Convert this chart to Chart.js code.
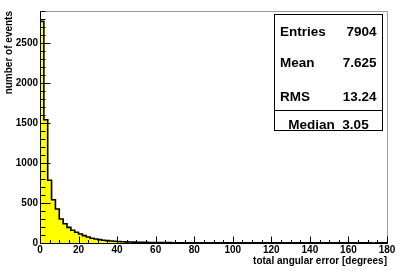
<!DOCTYPE html>
<html>
<head>
<meta charset="utf-8">
<script src="https://cdn.jsdelivr.net/npm/chart.js@4.4.1/dist/chart.umd.min.js"></script>
<style>
  html, body { margin: 0; padding: 0; background: #fff; }
  #wrap { width: 403px; height: 271px; position: relative; }
</style>
</head>
<body>
<div id="wrap"><canvas id="histChart"></canvas></div>
<script>
const binWidth = 2;
const counts = [
  2770, 1540, 785, 540, 425, 300, 240, 195, 160, 135,
  112, 92, 75, 60, 50, 42, 35, 30, 25, 22,
  18, 16, 14, 12, 11, 10, 9, 8, 7, 7,
  6, 6, 5, 5, 4, 4, 4, 3, 3, 3,
  3, 3, 2, 3, 2, 2, 3, 2, 2, 2,
  2, 2, 1, 2, 2, 1, 2, 1, 2, 1,
  1, 2, 1, 1, 2, 1, 1, 1, 2, 1,
  1, 1, 1, 2, 1, 1, 1, 1, 1, 1,
  1, 1, 0, 1, 1, 1, 0, 1, 1, 1,
];
const xTicks = [0, 20, 40, 60, 80, 100, 120, 140, 160, 180];
const yTicks = [0, 500, 1000, 1500, 2000, 2500];
const statsLabels = ["Entries", "Mean", "RMS"];
const statsValues = ["7904", "7.625", "13.24"];
const medianText = "Median  3.05";

const labelFont = { family: "Liberation Sans", size: 10, weight: "bold" };

// step outline: one point per bin low edge, plus the closing edge
const points = counts.map((value, i) => ({ x: i * binWidth, y: value }));
points.push({ x: counts.length * binWidth, y: counts[counts.length - 1] });

const drawTick = (ctx, x1, y1, x2, y2) => {
  ctx.beginPath();
  ctx.moveTo(x1, y1);
  ctx.lineTo(x2, y2);
  ctx.stroke();
};

const rootFrame = {
  id: "rootFrame",
  afterDraw(chart) {
    const { ctx, chartArea: area, scales } = chart;
    const left = Math.round(area.left) + 0.5;
    const right = Math.round(area.right) + 0.5;
    const top = Math.round(area.top) + 0.5;
    const bottom = Math.round(area.bottom) + 0.5;

    ctx.save();
    ctx.lineWidth = 1;
    ctx.strokeStyle = "#9a9a9a";
    ctx.beginPath();
    ctx.moveTo(left, top);
    ctx.lineTo(right, top);
    ctx.lineTo(right, bottom);
    ctx.stroke();

    ctx.strokeStyle = "#000";
    drawTick(ctx, left, top, left, bottom);
    drawTick(ctx, left, bottom, right, bottom);

    for (let v = 0; v <= scales.y.max; v += 100) {
      const y = Math.round(scales.y.getPixelForValue(v)) + 0.5;
      const len = v % 500 === 0 ? 10 : 5;
      drawTick(ctx, left, y, left + len, y);
    }
    for (let v = 0; v <= scales.x.max; v += 5) {
      const x = Math.round(scales.x.getPixelForValue(v)) + 0.5;
      const len = v % 20 === 0 ? 7 : 3.5;
      drawTick(ctx, x, bottom, x, bottom - len);
    }

    // stats box
    const bx = 274.5;
    const by = 14.5;
    const bw = 108;
    const bh = 116;
    ctx.fillStyle = "#fff";
    ctx.fillRect(bx, by, bw, bh);
    ctx.strokeRect(bx, by, bw, bh);
    drawTick(ctx, bx, 110.5, bx + bw, 110.5);

    ctx.fillStyle = "#000";
    ctx.font = "bold 13.5px 'Liberation Sans'";
    ctx.textBaseline = "alphabetic";
    const baselines = [36, 66.5, 100.5];
    statsLabels.forEach((label, i) => {
      ctx.textAlign = "left";
      ctx.fillText(label, 280, baselines[i]);
      ctx.textAlign = "right";
      ctx.fillText(statsValues[i], 376.5, baselines[i]);
    });
    ctx.textAlign = "center";
    ctx.fillText(medianText, bx + bw / 2, 128.5);
    ctx.restore();
  },
};

new Chart(document.getElementById("histChart"), {
  type: "line",
  data: {
    datasets: [
      {
        data: points,
        stepped: "before",
        borderColor: "#000",
        borderWidth: 1.6,
        backgroundColor: "#ffff00",
        fill: "origin",
        pointRadius: 0,
      },
    ],
  },
  options: {
    responsive: true,
    maintainAspectRatio: false,
    animation: false,
    layout: { padding: { left: 0, right: 16, top: 11, bottom: 0 } },
    plugins: {
      legend: { display: false },
      tooltip: { enabled: false },
    },
    scales: {
      x: {
        type: "linear",
        min: 0,
        max: 180,
        grid: { display: false, drawTicks: false },
        border: { display: false },
        afterBuildTicks: (scale) => {
          scale.ticks = xTicks.map((value) => ({ value }));
        },
        afterFit: (scale) => {
          scale.height = 28;
        },
        ticks: {
          font: labelFont,
          color: "#000",
          padding: 1,
          maxRotation: 0,
          autoSkip: false,
          callback: (value) => String(value),
        },
        title: {
          display: true,
          text: "total angular error [degrees]",
          align: "end",
          font: labelFont,
          color: "#000",
          padding: { top: 0, bottom: 4 },
        },
      },
      y: {
        min: 0,
        max: 2900,
        grid: { display: false, drawTicks: false },
        border: { display: false },
        afterBuildTicks: (scale) => {
          scale.ticks = yTicks.map((value) => ({ value }));
        },
        afterFit: (scale) => {
          scale.width = 40;
        },
        ticks: {
          font: labelFont,
          color: "#000",
          padding: 2,
          autoSkip: false,
          callback: (value) => String(value),
        },
        title: {
          display: true,
          text: "number of events",
          align: "end",
          font: labelFont,
          color: "#000",
          padding: { top: 3, bottom: 0 },
        },
      },
    },
  },
  plugins: [rootFrame],
});
</script>
</body>
</html>
